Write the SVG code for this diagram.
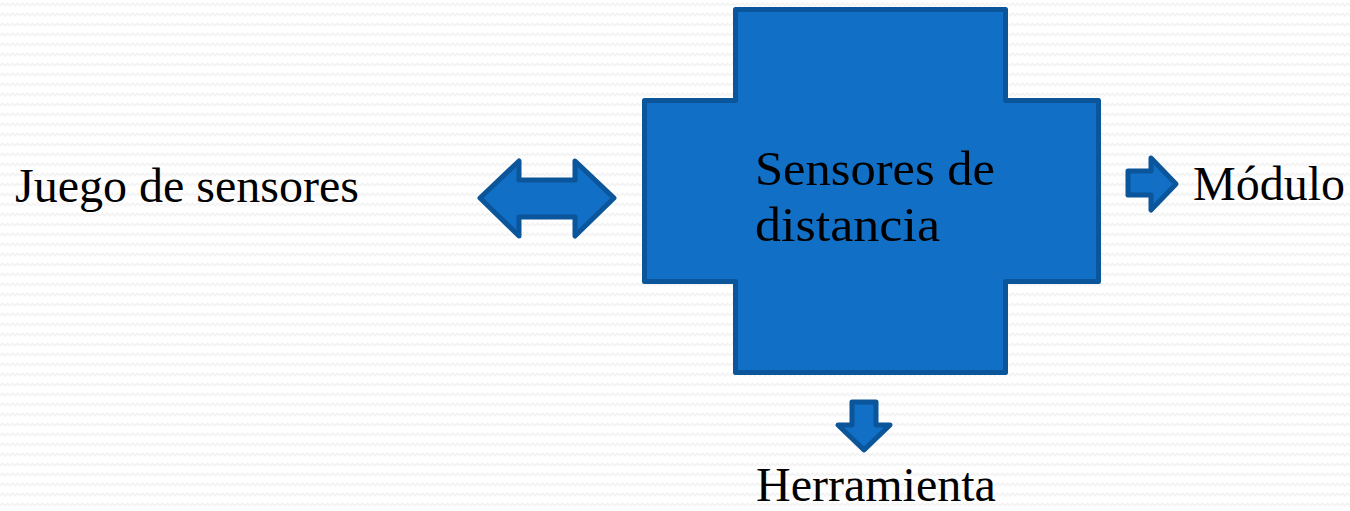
<svg xmlns="http://www.w3.org/2000/svg" width="1350" height="511" viewBox="0 0 1350 511">
  <defs>
    <pattern id="bg" width="10" height="10" patternUnits="userSpaceOnUse">
      <rect width="10" height="10" fill="#ffffff"/>
      <polyline points="0,6 2.5,3 5,6 7.5,3 10,6" fill="none" stroke="#f2f2f2" stroke-width="1.2"/>
    </pattern>
  </defs>
  <style>
    .shape { fill: #126fc6; stroke: #0b559a; stroke-width: 5; stroke-linejoin: round; }
    .lbl { font-family: "Liberation Serif", "Times New Roman", serif; font-size: 48px; fill: #000000; }
  </style>
  <rect width="1350" height="511" fill="url(#bg)"/>

  <g id="node-center">
    <path class="shape" stroke-linejoin="miter" d="M735.5,9.5 H1005.5 V100.5 H1098.5 V281.5 H1005.5 V372.5 H735.5 V281.5 H644.5 V100.5 H735.5 Z"/>
    <text class="lbl" x="755" y="185" textLength="240" lengthAdjust="spacingAndGlyphs">Sensores de</text>
    <text class="lbl" x="755" y="241" textLength="185" lengthAdjust="spacingAndGlyphs">distancia</text>
  </g>

  <g id="node-juego">
    <text class="lbl" x="15" y="202">Juego de sensores</text>
  </g>

  <g id="node-modulo">
    <text class="lbl" x="1193" y="200">Módulo</text>
  </g>

  <g id="node-herramienta">
    <text class="lbl" x="756" y="501">Herramienta</text>
  </g>

  <g id="connectors">
    <path class="shape" d="M480,198 L519,161 L519,180 L575,180 L575,161 L614,198 L575,236 L575,217 L519,217 L519,236 Z"/>
    <path class="shape" d="M1128,171 L1151,171 L1151,158 L1176,184 L1151,210 L1151,195 L1128,195 Z"/>
    <path class="shape" d="M852,402 L876,402 L876,425 L890,425 L864,450 L838,425 L852,425 Z"/>
  </g>
</svg>
